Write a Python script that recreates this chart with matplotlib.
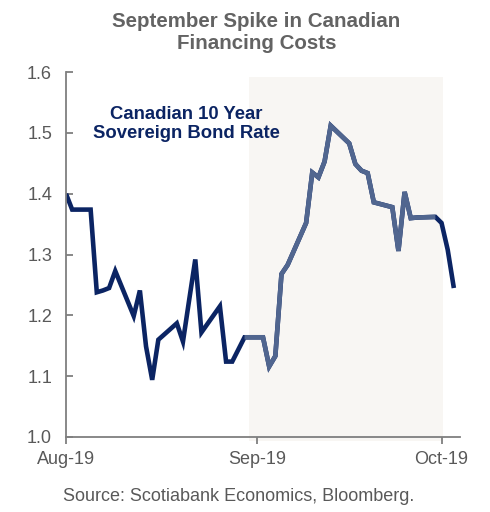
import matplotlib
matplotlib.use("Agg")
import matplotlib.pyplot as plt
import pandas as pd

plt.rcParams['font.family'] = ['Liberation Sans', 'DejaVu Sans']

# Canada 10-year benchmark yield, daily closes (%)
dates = pd.to_datetime([
    "2019-08-01", "2019-08-02", "2019-08-05", "2019-08-06", "2019-08-07",
    "2019-08-08", "2019-08-09", "2019-08-12", "2019-08-13", "2019-08-14",
    "2019-08-15", "2019-08-16", "2019-08-19", "2019-08-20", "2019-08-21",
    "2019-08-22", "2019-08-23", "2019-08-26", "2019-08-27", "2019-08-28",
    "2019-08-29", "2019-08-30", "2019-09-02", "2019-09-03", "2019-09-04",
    "2019-09-05", "2019-09-06", "2019-09-09", "2019-09-10", "2019-09-11",
    "2019-09-12", "2019-09-13", "2019-09-16", "2019-09-17", "2019-09-18",
    "2019-09-19", "2019-09-20", "2019-09-23", "2019-09-24", "2019-09-25",
    "2019-09-26", "2019-09-27", "2019-09-30", "2019-10-01", "2019-10-02",
    "2019-10-03",
])
yields = [
    1.400, 1.374, 1.374, 1.238, 1.241,
    1.245, 1.273, 1.199, 1.241, 1.149,
    1.094, 1.160, 1.187, 1.157, 1.225,
    1.292, 1.172, 1.215, 1.124, 1.124,
    1.144, 1.164, 1.164, 1.116, 1.133,
    1.268, 1.283, 1.352, 1.435, 1.427,
    1.453, 1.512, 1.483, 1.449, 1.438,
    1.434, 1.386, 1.378, 1.306, 1.403,
    1.360, 1.361, 1.362, 1.352, 1.308,
    1.245,
]

spike_start = pd.Timestamp("2019-08-30")
spike_end = pd.Timestamp("2019-09-30")
band_start = pd.Timestamp("2019-08-30 16:00")
band_end = pd.Timestamp("2019-10-01 04:00")

tick_dates = pd.to_datetime(["2019-08-01", "2019-09-01", "2019-10-01"])
tick_labels = ["Aug-19", "Sep-19", "Oct-19"]

navy = "#0b2463"
steel = "#51668f"
grey_text = "#595959"
axis_grey = "#7f7f7f"

fig = plt.figure(figsize=(4.9, 5.12), dpi=100)
ax = fig.add_axes([0.1347, 0.1465, 0.8041, 0.7125])

s = pd.Series(yields, index=dates)
ax.axvspan(band_start, band_end, ymin=-0.012, ymax=0.987,
           color="#f8f6f3", lw=0, zorder=0, clip_on=False)
ax.plot(s.index, s.values, color=navy, lw=3.3, solid_joinstyle="miter",
        solid_capstyle="butt", zorder=2)
sep = s[(s.index >= spike_start) & (s.index <= spike_end)]
ax.plot(sep.index, sep.values, color=steel, lw=3.3, solid_joinstyle="miter",
        solid_capstyle="butt", zorder=3)

ax.set_ylim(1.0, 1.6)
ax.set_xlim(pd.Timestamp("2019-08-01"), pd.Timestamp("2019-10-04"))
ax.set_yticks([1.0, 1.1, 1.2, 1.3, 1.4, 1.5, 1.6])
ax.set_yticklabels(["1.0", "1.1", "1.2", "1.3", "1.4", "1.5", "1.6"])
ax.set_xticks(tick_dates)
ax.set_xticklabels(tick_labels)

for side in ("top", "right"):
    ax.spines[side].set_visible(False)
for side in ("left", "bottom"):
    ax.spines[side].set_color(axis_grey)
    ax.spines[side].set_linewidth(1.3)
ax.tick_params(axis="y", direction="in", length=5, width=1.3, color=axis_grey,
               labelsize=13, labelcolor=grey_text, pad=10)
ax.tick_params(axis="x", direction="out", length=5, width=1.3, color=axis_grey,
               labelsize=13, labelcolor=grey_text, pad=5)

ax.text(0.305, 0.858, "Canadian 10 Year\nSovereign Bond Rate",
        transform=ax.transAxes, ha="center", va="center", fontsize=13.3,
        fontweight="bold", color=navy, linespacing=1.1)

fig.text(0.523, 0.937, "September Spike in Canadian\nFinancing Costs",
         ha="center", va="center", fontsize=14.8, fontweight="bold",
         color="#636363", linespacing=1.2)
fig.text(0.487, 0.03, "Source: Scotiabank Economics, Bloomberg.",
         ha="center", va="center", fontsize=13, color=grey_text)

fig.savefig("out.png", dpi=100)
